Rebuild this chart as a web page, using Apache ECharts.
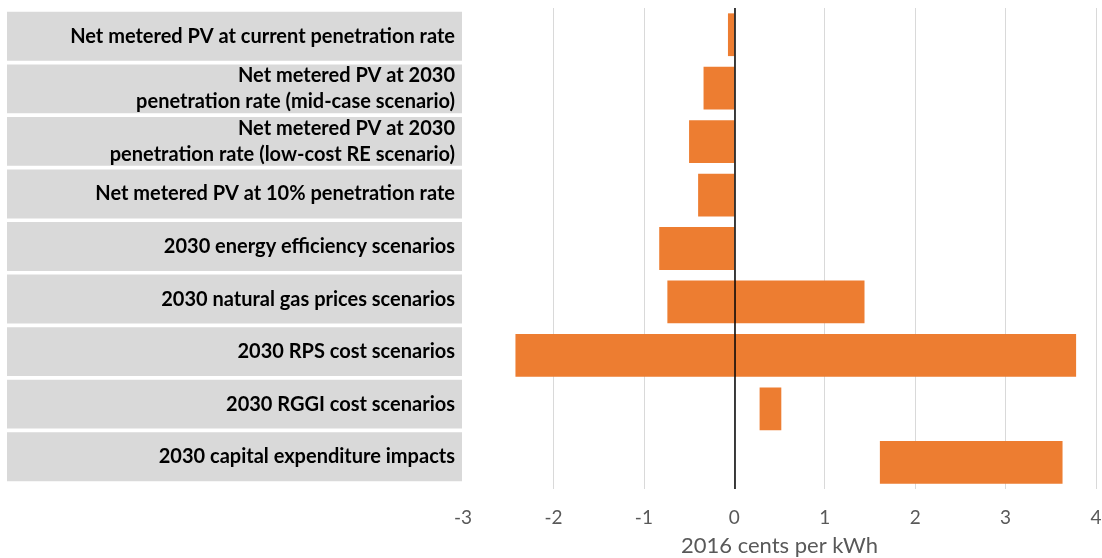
<!DOCTYPE html>
<html><head><meta charset="utf-8">
<script src="https://cdn.jsdelivr.net/npm/echarts@6/dist/echarts.min.js"></script>
<style>html,body{margin:0;padding:0;background:#fff}#c{width:1102px;height:558px}</style>
</head><body><div id="c"></div>
<script>
const categories = [
  "Net metered PV at current penetration rate",
  "Net metered PV at 2030\npenetration rate (mid-case scenario)",
  "Net metered PV at 2030\npenetration rate (low-cost RE scenario)",
  "Net metered PV at 10% penetration rate",
  "2030 energy efficiency scenarios",
  "2030 natural gas prices scenarios",
  "2030 RPS cost scenarios",
  "2030 RGGI cost scenarios",
  "2030 capital expenditure impacts"
];
const lowValues  = [-0.07, -0.34, -0.50, -0.40, -0.83, -0.74, -2.42, 0.28, 1.61];
const highValues = [0, 0, 0, 0, 0, 1.44, 3.78, 0.52, 3.63];
const axisMin = -3, axisMax = 4, axisStep = 1;
const axisTitle = "2016 cents per kWh";

const FONT = 'Lato';
const ORANGE = '#ed7d31';

const baseData = lowValues.map(v => v > 0 ? v : '-');
const negData = lowValues.map(v => v < 0 ? v : '-');
const posData = highValues.map((h, i) => h > 0 ? (lowValues[i] > 0 ? h - lowValues[i] : h) : '-');

const chart = echarts.init(document.getElementById('c'), null, {renderer: 'canvas'});
chart.setOption({
  animation: false,
  backgroundColor: '#fff',
  grid: [
    {left: 463, right: 6, top: 8, bottom: 69, containLabel: false, outerBoundsMode: 'none'},
    {left: 7, right: 640, top: 10, bottom: 75, containLabel: false, outerBoundsMode: 'none'}
  ],
  xAxis: [
    {
      gridIndex: 0, type: 'value', min: axisMin, max: axisMax, interval: axisStep,
      axisLine: {show: false}, axisTick: {show: false},
      splitLine: {show: true, showMinLine: false, lineStyle: {color: '#d9d9d9', width: 1}},
      axisLabel: {color: '#595959', fontFamily: FONT, fontSize: 19, margin: 19},
      name: axisTitle, nameLocation: 'middle', nameGap: 46,
      nameTextStyle: {color: '#595959', fontFamily: FONT, fontSize: 22}
    },
    {gridIndex: 1, type: 'value', min: 0, max: 1, show: false}
  ],
  yAxis: [
    {
      gridIndex: 0, type: 'category', data: categories, inverse: true,
      axisLine: {show: false}, axisTick: {show: false}, axisLabel: {show: false},
      splitLine: {show: false}
    },
    {
      gridIndex: 1, type: 'category', data: categories, inverse: true, position: 'right',
      z: 10,
      axisLine: {show: false}, axisTick: {show: false}, splitLine: {show: false},
      axisLabel: {
        inside: true, margin: 7, align: 'right',
        color: '#000', fontFamily: FONT, fontWeight: 'bold', fontSize: 20, lineHeight: 26
      }
    }
  ],
  series: [
    {
      type: 'bar', xAxisIndex: 1, yAxisIndex: 1, data: categories.map(() => 1),
      itemStyle: {color: '#d9d9d9'}, barCategoryGap: '7%', silent: true, z: 1
    },
    {
      type: 'bar', stack: 'r', data: baseData, itemStyle: {color: 'transparent'},
      barCategoryGap: '20%', silent: true
    },
    {
      type: 'bar', stack: 'r', data: negData, itemStyle: {color: ORANGE},
      barCategoryGap: '20%',
      markLine: {
        silent: true, symbol: ['none', 'none'], label: {show: false},
        lineStyle: {color: '#000', width: 1.5, type: 'solid'},
        data: [{xAxis: 0}]
      }
    },
    {
      type: 'bar', stack: 'r', data: posData, itemStyle: {color: ORANGE},
      barCategoryGap: '20%'
    }
  ]
});
</script>
</body></html>
